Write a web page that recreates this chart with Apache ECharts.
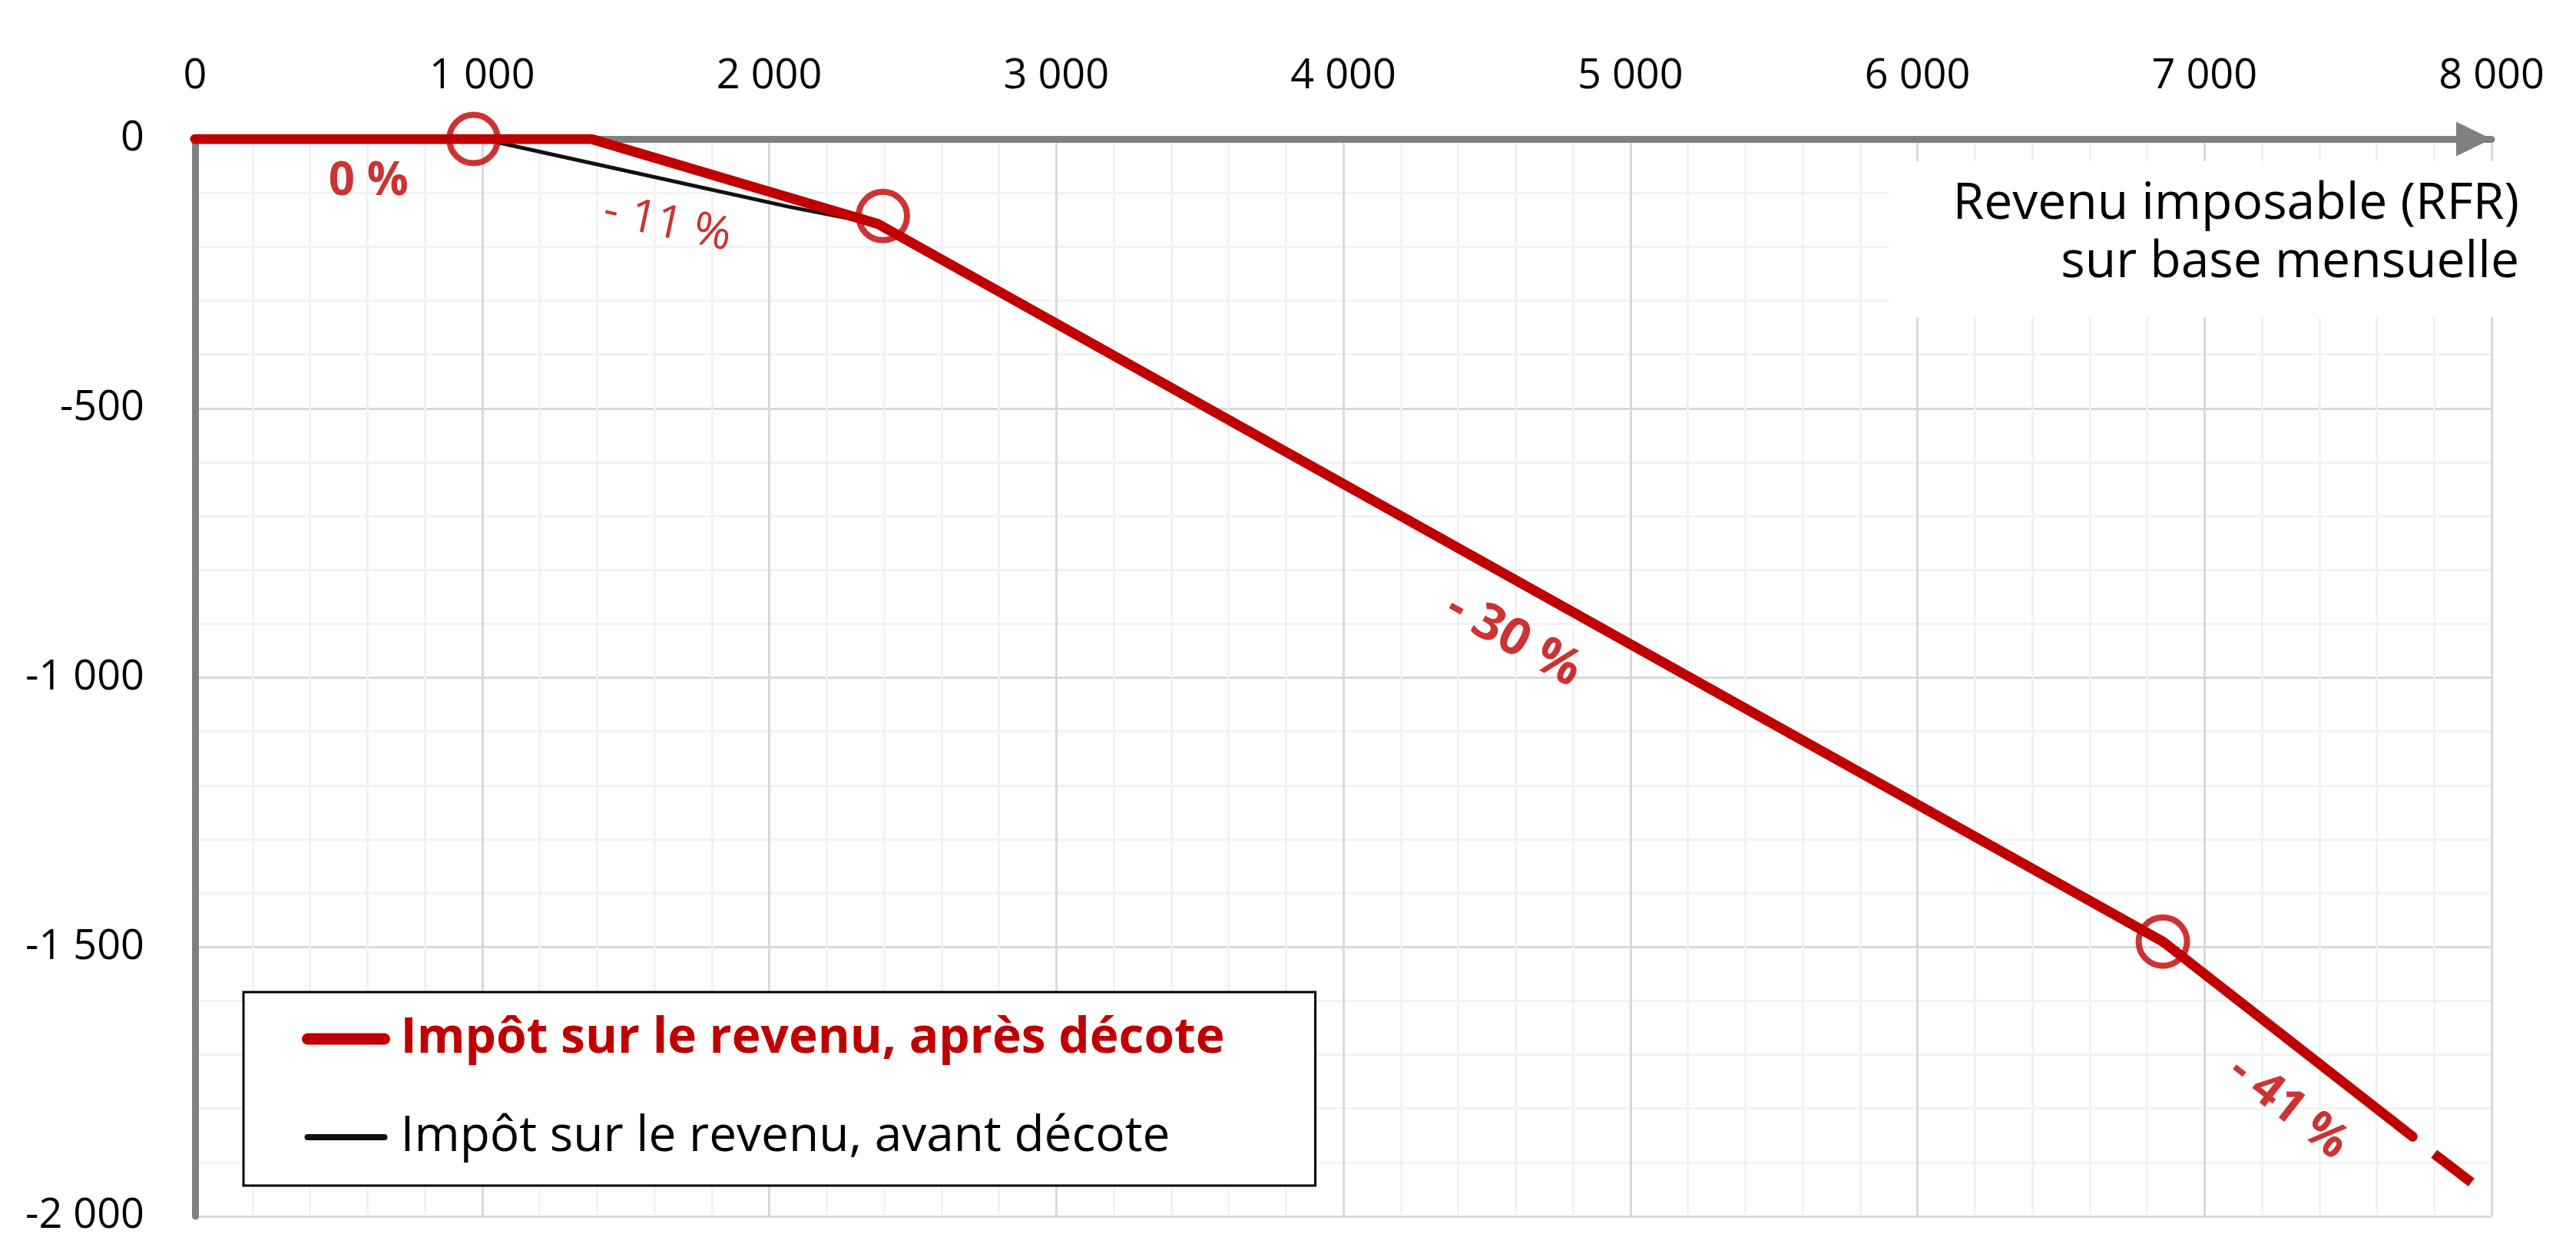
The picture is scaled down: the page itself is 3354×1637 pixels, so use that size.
<!DOCTYPE html>
<html>
<head>
<meta charset="utf-8">
<title>Impôt sur le revenu</title>
<script src="https://cdn.jsdelivr.net/npm/echarts@6/dist/echarts.min.js"></script>
<style>
  html, body { margin: 0; padding: 0; background: #fff; }
  #chart { width: 3354px; height: 1637px; }
</style>
</head>
<body>
<div id="chart"></div>
<script>
  // impôt après décote
  const revenuApres = [0, 1380, 2380, 6855, 7725]
  const impotApres = [0, 0, -158, -1490, -1852]
  // bout de ligne en pointillé
  const revenuSuite = [7800, 7930]
  const impotSuite = [-1884, -1937]
  // impôt avant décote
  const revenuAvant = [1000, 2070, 2380]
  const impotAvant = [0, -126, -158]
  // cercles aux changements de tranche
  const seuilRevenu = [970, 2396, 6855]
  const seuilImpot = [0, -143, -1490]
  // taux marginaux
  const tauxTexte = ['0 %', '- 11 %', '- 30 %', '- 41 %']
  const tauxRevenu = [604, 1645, 4593, 7291]
  const tauxImpot = [-79, -158, -929, -1798]
  // axes
  const xMin = 0, xMax = 8000, xPas = 1000
  const yMin = -2000, yMax = 0, yPas = 500
  const titreAxe = ['Revenu imposable (RFR)', 'sur base mensuelle']

  const ROUGE = '#C00000'
  const FONT = 'Open Sans'
  const pairs = (xs, ys) => xs.map((x, i) => [x, ys[i]])
  const milliers = v => String(v).replace(/\B(?=(\d{3})+(?!\d))/g, ' ')

  // rotation / graisse / taille des étiquettes de taux
  const tauxAngle = [0, -12, -29, -38]
  const tauxGras = [true, false, true, true]
  const tauxTaille = [60, 60, 66, 62]

  let myChart = echarts.init(document.getElementById('chart'))
  myChart.setOption({
    animation: false,
    textStyle: { fontFamily: FONT },
    grid: { left: 254, top: 181, width: 2990, height: 1403, containLabel: false },
    // titre de l'axe x, sur fond blanc
    graphic: [
      {
        type: 'rect',
        right: 64,
        top: 210,
        z: 100,
        shape: { width: 830, height: 203 },
        style: { fill: '#fff' }
      }
    ].concat(titreAxe.map((t, i) => ({
      type: 'text',
      right: 74,
      top: 228 + i * 76,
      z: 101,
      style: {
        text: t,
        fill: '#000',
        font: '66px "Open Sans"',
        lineHeight: 76
      }
    }))),
    legend: {
      orient: 'vertical',
      left: 317,
      top: 1292,
      padding: [29, 118, 31, 76],
      itemGap: 64,
      itemWidth: 100,
      itemHeight: 6,
      backgroundColor: '#fff',
      borderColor: '#000',
      borderWidth: 3,
      selectedMode: false,
      itemStyle: { opacity: 0 },
      textStyle: { fontFamily: FONT, fontSize: 64, lineHeight: 62, padding: [0, 0, 0, 16] },
      data: [
        {
          name: 'Impôt sur le revenu, après décote',
          lineStyle: { color: ROUGE, width: 15, cap: 'round' },
          textStyle: { color: ROUGE, fontWeight: 'bold' }
        },
        {
          name: 'Impôt sur le revenu, avant décote',
          lineStyle: { color: '#111', width: 8, cap: 'round' },
          textStyle: { color: '#000', fontWeight: 'normal' }
        }
      ]
    },
    xAxis: {
      type: 'value',
      position: 'top',
      min: xMin,
      max: xMax,
      interval: xPas,
      axisLine: {
        show: true,
        onZero: false,
        symbol: ['none', 'triangle'],
        symbolSize: [45, 46],
        symbolOffset: [0, -23],
        lineStyle: { color: '#808080', width: 9 }
      },
      axisTick: { show: false },
      axisLabel: { margin: 54, fontSize: 54, color: '#000', fontFamily: FONT, formatter: milliers },
      splitLine: { show: true, lineStyle: { color: '#d9d9d9', width: 3 } },
      minorTick: { show: false, splitNumber: 5 },
      minorSplitLine: { show: true, lineStyle: { color: '#f2f2f2', width: 3 } }
    },
    yAxis: {
      type: 'value',
      min: yMin,
      max: yMax,
      interval: yPas,
      axisLine: { show: true, onZero: false, lineStyle: { color: '#808080', width: 9 } },
      axisTick: { show: false },
      axisLabel: { margin: 66, fontSize: 54, color: '#000', fontFamily: FONT, formatter: milliers },
      splitLine: { show: true, lineStyle: { color: '#d9d9d9', width: 3 } },
      minorTick: { show: false, splitNumber: 5 },
      minorSplitLine: { show: true, lineStyle: { color: '#f2f2f2', width: 3 } }
    },
    series: [
      {
        name: 'Impôt sur le revenu, avant décote',
        type: 'line',
        z: 3,
        symbol: 'none',
        data: pairs(revenuAvant, impotAvant),
        lineStyle: { color: '#111', width: 5, cap: 'round', join: 'round' },
        itemStyle: { color: '#111' }
      },
      {
        name: 'Impôt sur le revenu, après décote',
        type: 'line',
        z: 4,
        symbol: 'none',
        data: pairs(revenuApres, impotApres),
        lineStyle: { color: ROUGE, width: 13, cap: 'round', join: 'round' },
        itemStyle: { color: ROUGE }
      },
      {
        name: 'suite',
        type: 'line',
        z: 4,
        symbol: 'none',
        data: pairs(revenuSuite, impotSuite),
        lineStyle: { color: ROUGE, width: 13, cap: 'butt' }
      },
      {
        name: 'seuils',
        type: 'scatter',
        z: 5,
        symbol: 'circle',
        symbolSize: 63,
        data: pairs(seuilRevenu, seuilImpot),
        itemStyle: { color: 'rgba(0,0,0,0)', borderColor: ROUGE, borderWidth: 8 }
      },
      {
        name: 'taux',
        type: 'scatter',
        z: 6,
        symbolSize: 0,
        data: tauxTexte.map((t, i) => ({
          value: [tauxRevenu[i], tauxImpot[i]],
          label: {
            rotate: tauxAngle[i],
            fontSize: tauxTaille[i],
            fontWeight: tauxGras[i] ? 'bold' : 'normal'
          }
        })),
        label: {
          show: true,
          position: 'inside',
          fontFamily: FONT,
          color: ROUGE,
          formatter: p => tauxTexte[p.dataIndex]
        }
      }
    ]
  })
</script>
</body>
</html>
